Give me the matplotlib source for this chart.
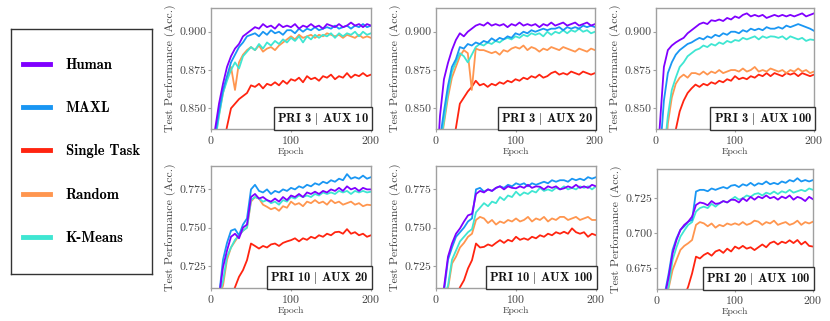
import matplotlib
matplotlib.use("Agg")
import matplotlib.pyplot as plt
import numpy as np

plt.rcParams['font.family'] = 'serif'
plt.rcParams['font.serif'] = ['cmr10']
plt.rcParams['mathtext.fontset'] = 'cm'
plt.rcParams['axes.formatter.use_mathtext'] = True

epochs = list(range(0, 201, 5))
methods = ["Human", "MAXL", "Single Task", "Random", "K-Means"]
colors = {"Human": "#8000ff", "MAXL": "#1996f3", "Single Task": "#ff2410",
          "Random": "#ff964f", "K-Means": "#3fe6d2"}
draw_order = ["Single Task", "Random", "K-Means", "MAXL", "Human"]

titles = ["PRI 3 | AUX 10", "PRI 3 | AUX 20", "PRI 3 | AUX 100",
          "PRI 10 | AUX 20", "PRI 10 | AUX 100", "PRI 20 | AUX 100"]
ylims = [(0.8365, 0.9155), (0.8365, 0.9155), (0.8365, 0.9155),
         (0.7105, 0.7903), (0.7105, 0.7903), (0.6602, 0.7459)]
yticks = [[0.850, 0.875, 0.900]] * 3 + [[0.725, 0.750, 0.775]] * 2 + [[0.675, 0.700, 0.725]]

# ---- PRI 3 | AUX 10
p1_human = [0.80, 0.836, 0.853, 0.866, 0.877, 0.884, 0.889, 0.892, 0.897, 0.899, 0.901, 0.903, 0.902, 0.905,
            0.903, 0.904, 0.902, 0.905, 0.903, 0.904, 0.903, 0.905, 0.902, 0.904, 0.903, 0.905, 0.903, 0.904,
            0.902, 0.905, 0.904, 0.903, 0.905, 0.903, 0.904, 0.906, 0.904, 0.905, 0.903, 0.905, 0.904]
p1_maxl = [0.80, 0.832, 0.848, 0.862, 0.871, 0.880, 0.885, 0.890, 0.893, 0.897, 0.898, 0.899, 0.897, 0.900,
           0.898, 0.901, 0.899, 0.900, 0.898, 0.901, 0.901, 0.899, 0.902, 0.900, 0.902, 0.901, 0.903, 0.901,
           0.902, 0.903, 0.902, 0.904, 0.902, 0.903, 0.904, 0.902, 0.904, 0.903, 0.905, 0.903, 0.904]
p1_single = [0.78, 0.79, 0.80, 0.825, 0.838, 0.850, 0.853, 0.856, 0.858, 0.860, 0.865, 0.864, 0.866, 0.863,
             0.866, 0.865, 0.867, 0.865, 0.868, 0.866, 0.869, 0.868, 0.870, 0.867, 0.871, 0.869, 0.870, 0.868,
             0.871, 0.870, 0.872, 0.869, 0.871, 0.870, 0.873, 0.870, 0.872, 0.871, 0.873, 0.871, 0.872]
p1_random = [0.80, 0.830, 0.846, 0.860, 0.870, 0.877, 0.862, 0.880, 0.885, 0.888, 0.890, 0.888, 0.891, 0.887,
             0.889, 0.890, 0.888, 0.891, 0.893, 0.895, 0.897, 0.895, 0.898, 0.896, 0.897, 0.898, 0.896, 0.898,
             0.897, 0.899, 0.898, 0.897, 0.898, 0.896, 0.898, 0.897, 0.896, 0.898, 0.896, 0.897, 0.896]
p1_kmeans = [0.80, 0.828, 0.845, 0.860, 0.868, 0.875, 0.880, 0.876, 0.884, 0.887, 0.890, 0.888, 0.892, 0.889,
             0.893, 0.891, 0.894, 0.892, 0.895, 0.893, 0.896, 0.894, 0.897, 0.893, 0.897, 0.895, 0.898, 0.896,
             0.898, 0.897, 0.899, 0.896, 0.899, 0.897, 0.899, 0.898, 0.900, 0.897, 0.900, 0.898, 0.899]

# ---- PRI 3 | AUX 20
p2_human = [0.80, 0.845, 0.869, 0.8795, 0.888, 0.8946, 0.899, 0.897, 0.900, 0.902, 0.904, 0.905, 0.904, 0.906,
            0.904, 0.905, 0.904, 0.905, 0.903, 0.905, 0.904, 0.906, 0.904, 0.905, 0.904, 0.905, 0.903, 0.905,
            0.904, 0.906, 0.904, 0.905, 0.906, 0.904, 0.905, 0.906, 0.904, 0.905, 0.906, 0.904, 0.905]
p2_maxl = [0.80, 0.830, 0.848, 0.8645, 0.877, 0.882, 0.890, 0.889, 0.892, 0.891, 0.893, 0.892, 0.894, 0.893,
           0.8957, 0.894, 0.896, 0.895, 0.897, 0.896, 0.899, 0.898, 0.900, 0.899, 0.901, 0.900, 0.901, 0.902,
           0.901, 0.902, 0.902, 0.903, 0.901, 0.903, 0.902, 0.903, 0.902, 0.904, 0.903, 0.904, 0.903]
p2_single = [0.78, 0.79, 0.80, 0.81, 0.825, 0.837, 0.853, 0.857, 0.861, 0.864, 0.868, 0.865, 0.866, 0.864,
             0.866, 0.865, 0.867, 0.866, 0.868, 0.867, 0.869, 0.868, 0.870, 0.869, 0.871, 0.870, 0.872, 0.870,
             0.871, 0.873, 0.874, 0.872, 0.873, 0.872, 0.874, 0.873, 0.872, 0.874, 0.873, 0.872, 0.873]
p2_random = [0.80, 0.823, 0.840, 0.857, 0.870, 0.877, 0.884, 0.888, 0.886, 0.862, 0.889, 0.888, 0.888, 0.887,
             0.886, 0.887, 0.885, 0.888, 0.887, 0.889, 0.890, 0.889, 0.891, 0.888, 0.890, 0.889, 0.887, 0.889,
             0.888, 0.890, 0.889, 0.888, 0.890, 0.889, 0.888, 0.887, 0.889, 0.888, 0.887, 0.889, 0.888]
p2_kmeans = [0.80, 0.825, 0.842, 0.860, 0.874, 0.880, 0.886, 0.884, 0.880, 0.885, 0.890, 0.892, 0.891, 0.893,
             0.892, 0.894, 0.893, 0.895, 0.896, 0.895, 0.897, 0.896, 0.898, 0.897, 0.899, 0.898, 0.899, 0.897,
             0.900, 0.898, 0.900, 0.899, 0.901, 0.899, 0.901, 0.900, 0.902, 0.900, 0.901, 0.899, 0.900]

# ---- PRI 3 | AUX 100
p3_human = [0.80, 0.840, 0.877, 0.888, 0.891, 0.893, 0.8946, 0.896, 0.899, 0.901, 0.903, 0.905, 0.906, 0.905,
            0.9075, 0.907, 0.908, 0.907, 0.909, 0.908, 0.910, 0.909, 0.911, 0.912, 0.910, 0.911, 0.910, 0.911,
            0.909, 0.910, 0.911, 0.910, 0.911, 0.910, 0.911, 0.910, 0.911, 0.912, 0.910, 0.911, 0.912]
p3_maxl = [0.80, 0.820, 0.855, 0.873, 0.880, 0.885, 0.888, 0.890, 0.892, 0.893, 0.8946, 0.896, 0.895, 0.897,
           0.896, 0.898, 0.897, 0.899, 0.898, 0.900, 0.900, 0.899, 0.901, 0.900, 0.902, 0.901, 0.902, 0.901,
           0.903, 0.902, 0.902, 0.903, 0.902, 0.904, 0.903, 0.904, 0.905, 0.904, 0.903, 0.902, 0.9006]
p3_single = [0.78, 0.78, 0.79, 0.80, 0.815, 0.836, 0.848, 0.855, 0.860, 0.863, 0.8655, 0.864, 0.866, 0.865,
             0.867, 0.866, 0.868, 0.867, 0.869, 0.868, 0.871, 0.869, 0.870, 0.869, 0.871, 0.870, 0.872, 0.871,
             0.873, 0.871, 0.873, 0.872, 0.871, 0.873, 0.872, 0.873, 0.871, 0.873, 0.872, 0.871, 0.872]
p3_random = [0.78, 0.79, 0.80, 0.840, 0.857, 0.866, 0.870, 0.872, 0.870, 0.873, 0.873, 0.872, 0.874, 0.872,
             0.874, 0.873, 0.875, 0.873, 0.874, 0.875, 0.875, 0.874, 0.876, 0.874, 0.875, 0.877, 0.874, 0.875,
             0.874, 0.876, 0.875, 0.874, 0.875, 0.873, 0.875, 0.874, 0.876, 0.874, 0.875, 0.873, 0.874]
p3_kmeans = [0.79, 0.80, 0.820, 0.845, 0.862, 0.870, 0.877, 0.880, 0.884, 0.886, 0.888, 0.889, 0.891, 0.890,
             0.892, 0.891, 0.893, 0.892, 0.894, 0.893, 0.8946, 0.894, 0.896, 0.895, 0.896, 0.897, 0.895, 0.897,
             0.896, 0.897, 0.8968, 0.896, 0.897, 0.895, 0.897, 0.896, 0.895, 0.896, 0.894, 0.895, 0.8946]

# ---- PRI 10 | AUX 20
p4_human = [0.69, 0.70, 0.705, 0.724, 0.735, 0.744, 0.746, 0.743, 0.750, 0.752, 0.770, 0.772, 0.769, 0.770,
            0.768, 0.767, 0.769, 0.767, 0.770, 0.768, 0.771, 0.770, 0.772, 0.770, 0.773, 0.772, 0.7735, 0.772,
            0.774, 0.773, 0.775, 0.774, 0.776, 0.774, 0.777, 0.775, 0.776, 0.774, 0.776, 0.775, 0.775]
p4_maxl = [0.69, 0.70, 0.705, 0.729, 0.740, 0.748, 0.749, 0.745, 0.752, 0.756, 0.775, 0.778, 0.774, 0.773,
           0.775, 0.772, 0.774, 0.773, 0.775, 0.774, 0.776, 0.775, 0.777, 0.776, 0.778, 0.777, 0.779, 0.778,
           0.780, 0.779, 0.781, 0.780, 0.782, 0.781, 0.785, 0.782, 0.783, 0.782, 0.784, 0.782, 0.783]
p4_single = [0.68, 0.685, 0.69, 0.695, 0.700, 0.705, 0.711, 0.7178, 0.7222, 0.7287, 0.7396, 0.738, 0.7363, 0.738,
             0.737, 0.739, 0.7396, 0.738, 0.740, 0.741, 0.7418, 0.743, 0.741, 0.743, 0.742, 0.744, 0.743, 0.745,
             0.744, 0.746, 0.745, 0.747, 0.7473, 0.746, 0.749, 0.746, 0.747, 0.745, 0.746, 0.744, 0.745]
p4_random = [0.69, 0.70, 0.705, 0.712, 0.729, 0.737, 0.741, 0.745, 0.748, 0.750, 0.767, 0.770, 0.769, 0.765,
             0.7636, 0.762, 0.763, 0.761, 0.764, 0.763, 0.767, 0.765, 0.766, 0.764, 0.767, 0.766, 0.768, 0.766,
             0.767, 0.765, 0.768, 0.766, 0.767, 0.765, 0.766, 0.767, 0.765, 0.766, 0.764, 0.765, 0.7647]
p4_kmeans = [0.69, 0.70, 0.705, 0.715, 0.731, 0.737, 0.742, 0.745, 0.748, 0.750, 0.768, 0.770, 0.769, 0.767,
             0.768, 0.766, 0.767, 0.765, 0.768, 0.767, 0.770, 0.769, 0.771, 0.770, 0.771, 0.770, 0.772, 0.771,
             0.773, 0.772, 0.773, 0.772, 0.774, 0.773, 0.774, 0.772, 0.774, 0.773, 0.774, 0.773, 0.7735]

# ---- PRI 10 | AUX 100
p5_human = [0.69, 0.70, 0.711, 0.731, 0.7396, 0.746, 0.7495, 0.754, 0.758, 0.759, 0.772, 0.774, 0.773, 0.775,
            0.774, 0.776, 0.777, 0.775, 0.777, 0.776, 0.7757, 0.777, 0.776, 0.778, 0.776, 0.777, 0.7767, 0.775,
            0.777, 0.776, 0.777, 0.775, 0.7757, 0.777, 0.776, 0.778, 0.776, 0.777, 0.776, 0.778, 0.777]
p5_maxl = [0.69, 0.70, 0.708, 0.729, 0.737, 0.744, 0.747, 0.750, 0.754, 0.756, 0.775, 0.776, 0.7735, 0.775,
           0.774, 0.776, 0.777, 0.776, 0.778, 0.777, 0.779, 0.778, 0.779, 0.777, 0.779, 0.778, 0.779, 0.780,
           0.779, 0.781, 0.780, 0.781, 0.781, 0.780, 0.782, 0.781, 0.782, 0.781, 0.783, 0.782, 0.783]
p5_single = [0.68, 0.685, 0.69, 0.695, 0.700, 0.705, 0.711, 0.7156, 0.7233, 0.7287, 0.7396, 0.737, 0.7374, 0.739,
             0.738, 0.740, 0.7418, 0.740, 0.742, 0.741, 0.744, 0.742, 0.743, 0.742, 0.744, 0.743, 0.745, 0.744,
             0.746, 0.745, 0.747, 0.746, 0.7473, 0.746, 0.7495, 0.747, 0.746, 0.747, 0.744, 0.746, 0.745]
p5_random = [0.69, 0.70, 0.703, 0.710, 0.7265, 0.731, 0.737, 0.740, 0.744, 0.746, 0.755, 0.757, 0.756, 0.753,
             0.755, 0.752, 0.754, 0.753, 0.755, 0.754, 0.756, 0.754, 0.755, 0.757, 0.754, 0.756, 0.755, 0.757,
             0.754, 0.756, 0.755, 0.757, 0.757, 0.755, 0.756, 0.757, 0.755, 0.756, 0.757, 0.755, 0.755]
p5_kmeans = [0.69, 0.70, 0.705, 0.712, 0.729, 0.735, 0.741, 0.744, 0.747, 0.749, 0.760, 0.763, 0.766, 0.764,
             0.767, 0.766, 0.770, 0.768, 0.771, 0.770, 0.7735, 0.771, 0.773, 0.772, 0.774, 0.773, 0.776, 0.774,
             0.775, 0.774, 0.776, 0.775, 0.777, 0.775, 0.776, 0.775, 0.777, 0.776, 0.777, 0.775, 0.777]

# ---- PRI 20 | AUX 100
p6_human = [0.64, 0.65, 0.655, 0.669, 0.6857, 0.6952, 0.7024, 0.706, 0.7083, 0.7119, 0.7202, 0.722, 0.7214, 0.720,
            0.723, 0.721, 0.7214, 0.723, 0.722, 0.724, 0.7238, 0.722, 0.725, 0.723, 0.726, 0.724, 0.7262, 0.725,
            0.727, 0.725, 0.726, 0.724, 0.7262, 0.725, 0.727, 0.724, 0.726, 0.725, 0.723, 0.726, 0.7243]
p6_maxl = [0.64, 0.65, 0.657, 0.6714, 0.6881, 0.6964, 0.7024, 0.705, 0.7083, 0.7095, 0.7298, 0.731, 0.731, 0.730,
           0.732, 0.731, 0.7321, 0.733, 0.732, 0.734, 0.7345, 0.733, 0.735, 0.734, 0.736, 0.734, 0.7357, 0.735,
           0.737, 0.735, 0.736, 0.735, 0.737, 0.736, 0.738, 0.737, 0.7393, 0.737, 0.738, 0.737, 0.738]
p6_single = [0.62, 0.625, 0.63, 0.635, 0.64, 0.645, 0.65, 0.655, 0.6619, 0.6714, 0.6833, 0.682, 0.6845, 0.686,
             0.684, 0.687, 0.6881, 0.686, 0.689, 0.687, 0.6905, 0.689, 0.691, 0.689, 0.690, 0.688, 0.690, 0.692,
             0.690, 0.693, 0.6941, 0.692, 0.694, 0.693, 0.695, 0.693, 0.6952, 0.692, 0.694, 0.691, 0.6905]
p6_random = [0.64, 0.645, 0.65, 0.661, 0.6738, 0.681, 0.6881, 0.691, 0.6929, 0.6952, 0.706, 0.708, 0.7071, 0.705,
             0.707, 0.704, 0.706, 0.705, 0.707, 0.706, 0.7071, 0.706, 0.708, 0.706, 0.707, 0.709, 0.7083, 0.706,
             0.708, 0.707, 0.709, 0.706, 0.7071, 0.708, 0.706, 0.707, 0.709, 0.706, 0.708, 0.707, 0.7083]
p6_kmeans = [0.64, 0.65, 0.655, 0.662, 0.681, 0.690, 0.6976, 0.702, 0.706, 0.708, 0.7155, 0.718, 0.719, 0.718,
             0.721, 0.719, 0.7214, 0.723, 0.722, 0.724, 0.726, 0.724, 0.725, 0.727, 0.726, 0.728, 0.7286, 0.727,
             0.729, 0.728, 0.7298, 0.728, 0.730, 0.729, 0.731, 0.729, 0.730, 0.731, 0.730, 0.732, 0.731]

panels = [
    {"Human": p1_human, "MAXL": p1_maxl, "Single Task": p1_single, "Random": p1_random, "K-Means": p1_kmeans},
    {"Human": p2_human, "MAXL": p2_maxl, "Single Task": p2_single, "Random": p2_random, "K-Means": p2_kmeans},
    {"Human": p3_human, "MAXL": p3_maxl, "Single Task": p3_single, "Random": p3_random, "K-Means": p3_kmeans},
    {"Human": p4_human, "MAXL": p4_maxl, "Single Task": p4_single, "Random": p4_random, "K-Means": p4_kmeans},
    {"Human": p5_human, "MAXL": p5_maxl, "Single Task": p5_single, "Random": p5_random, "K-Means": p5_kmeans},
    {"Human": p6_human, "MAXL": p6_maxl, "Single Task": p6_single, "Random": p6_random, "K-Means": p6_kmeans},
]

W, H = 830.0, 321.0
# axes boxes in pixels: left, top, right, bottom
boxes = [(211, 8, 371, 129), (436, 8, 595, 129), (656, 8, 814, 129),
         (211, 166, 371, 288), (436, 166, 596, 288), (657, 169, 813, 289)]

fig = plt.figure(figsize=(8.3, 3.21), dpi=100)
spine_c = "#a0a0a0"
text_c = "#444444"

for i, (l, t, r, b) in enumerate(boxes):
    ax = fig.add_axes([l / W, 1 - b / H, (r - l) / W, (b - t) / H])
    data = panels[i]
    for m in draw_order:
        ax.plot(epochs, data[m], color=colors[m], lw=1.3, label=m)
    ax.set_xlim(0, 200)
    ax.set_ylim(*ylims[i])
    ax.set_xticks([0, 100, 200])
    ax.set_yticks(yticks[i])
    ax.yaxis.set_major_formatter(matplotlib.ticker.FormatStrFormatter('%.3f'))
    for s in ax.spines.values():
        s.set_color(spine_c)
        s.set_linewidth(1.0)
    ax.tick_params(length=2, width=0.8, color=spine_c, labelsize=8.5, labelcolor=text_c, pad=1.5)
    ax.set_ylabel("Test Performance (Acc.)", fontsize=8.5, color=text_c, labelpad=2)
    ax.set_xlabel("Epoch", fontsize=7, color=text_c, labelpad=1)
    # cmb10 has no "|" glyph, so the bar goes through mathtext
    label = titles[i].replace("|", "$|$")
    ax.text(0.985, 0.02, label, transform=ax.transAxes, ha="right", va="bottom", fontsize=9,
            family="cmb10", color="#111111",
            bbox=dict(boxstyle="square,pad=0.25", facecolor="white", edgecolor="#333333", linewidth=1.0))

# legend box
lax = fig.add_axes([11 / W, 1 - 274 / H, (152 - 11) / W, (274 - 29) / H])
lax.set_xticks([])
lax.set_yticks([])
for s in lax.spines.values():
    s.set_color("#333333")
    s.set_linewidth(1.0)
handles = [matplotlib.lines.Line2D([], [], color=colors[m], lw=3.5) for m in methods]
lax.legend(handles, methods, loc="center", frameon=False, labelspacing=2.0,
           handlelength=1.8, handletextpad=1.1, borderaxespad=0,
           prop={"family": "cmb10", "size": 10.5})

fig.savefig("out.png", dpi=100)
